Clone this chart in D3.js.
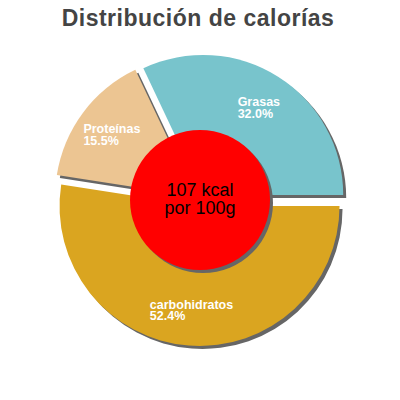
<!DOCTYPE html>
<html>
<head>
<meta charset="utf-8">
<script src="https://cdn.jsdelivr.net/npm/d3@7"></script>
<style>
  body { margin: 0; background: #fff; }
  svg { display: block; font-family: "Liberation Sans", Arial, sans-serif; }
</style>
</head>
<body>
<script>
// data
var categories = ['carbohidratos', 'Proteínas', 'Grasas'];
var percents = [52.4, 15.5, 32.0];
var sliceColors = ['#daa520', '#ecc592', '#78c4cc'];
var energy = ['107 kcal', 'por 100g'];
var title = 'Distribución de calorías';

var W = 400, H = 400;
var cx = 200, cy = 200, R = 140, holeR = 70, explode = 6, labelR = 104;

var svg = d3.select('body').append('svg').attr('width', W).attr('height', H);

svg.append('text').attr('x', 198).attr('y', 26)
  .attr('text-anchor', 'middle')
  .attr('font-size', 23).attr('font-weight', 'bold')
  .attr('letter-spacing', 0.5)
  .attr('fill', '#444')
  .text(title);

var color = d3.scaleOrdinal().domain(categories).range(sliceColors);

var pie = d3.pie().sort(null).value(function (d) { return d; })
  .startAngle(Math.PI / 2).endAngle(Math.PI / 2 + 2 * Math.PI);
var arcs = pie(percents);

var arc = d3.arc().innerRadius(0).outerRadius(R);
var offsetArc = d3.arc().innerRadius(explode).outerRadius(explode);
var labelArc = d3.arc().innerRadius(labelR).outerRadius(labelR);

function shift(a) {
  var c = offsetArc.centroid(a);
  return [cx + c[0], cy + c[1]];
}

var group = svg.append('g');

// shadows first
group.selectAll('path.shadow').data(arcs).enter().append('path')
  .attr('class', 'shadow')
  .attr('d', arc)
  .attr('transform', function (a) { var p = shift(a); return 'translate(' + (p[0] + 3) + ',' + (p[1] + 3) + ')'; })
  .attr('fill', '#666');

group.selectAll('path.slice').data(arcs).enter().append('path')
  .attr('class', 'slice')
  .attr('d', arc)
  .attr('transform', function (a) { var p = shift(a); return 'translate(' + p[0] + ',' + p[1] + ')'; })
  .attr('fill', function (a, i) { return color(categories[i]); });

// center disc
group.append('circle').attr('cx', cx + 3).attr('cy', cy + 3).attr('r', holeR).attr('fill', '#666');
group.append('circle').attr('cx', cx).attr('cy', cy).attr('r', holeR).attr('fill', '#ff0000');

var ct = group.append('text').attr('text-anchor', 'middle')
  .attr('font-size', 18).attr('fill', '#000');
ct.selectAll('tspan').data(energy).enter().append('tspan')
  .attr('x', cx)
  .attr('y', function (d, i) { return 196 + i * 17.5; })
  .text(function (d) { return d; });

// slice labels: left aligned block centered on label centroid
var fmt = d3.format('.1f');
arcs.forEach(function (a, i) {
  var p = shift(a);
  var c = labelArc.centroid(a);
  var t = group.append('text')
    .attr('font-size', 12.5).attr('font-weight', 'bold')
    .attr('fill', '#fff');
  var l1 = t.append('tspan').text(categories[i]);
  var l2 = t.append('tspan').text(fmt(percents[i]) + '%');
  var w = Math.max(l1.node().getComputedTextLength(), l2.node().getComputedTextLength());
  var x0 = p[0] + c[0] - w / 2;
  var y0 = p[1] + c[1] - 1;
  l1.attr('x', x0).attr('y', y0);
  l2.attr('x', x0).attr('y', y0 + 11.5);
});
</script>
</body>
</html>
